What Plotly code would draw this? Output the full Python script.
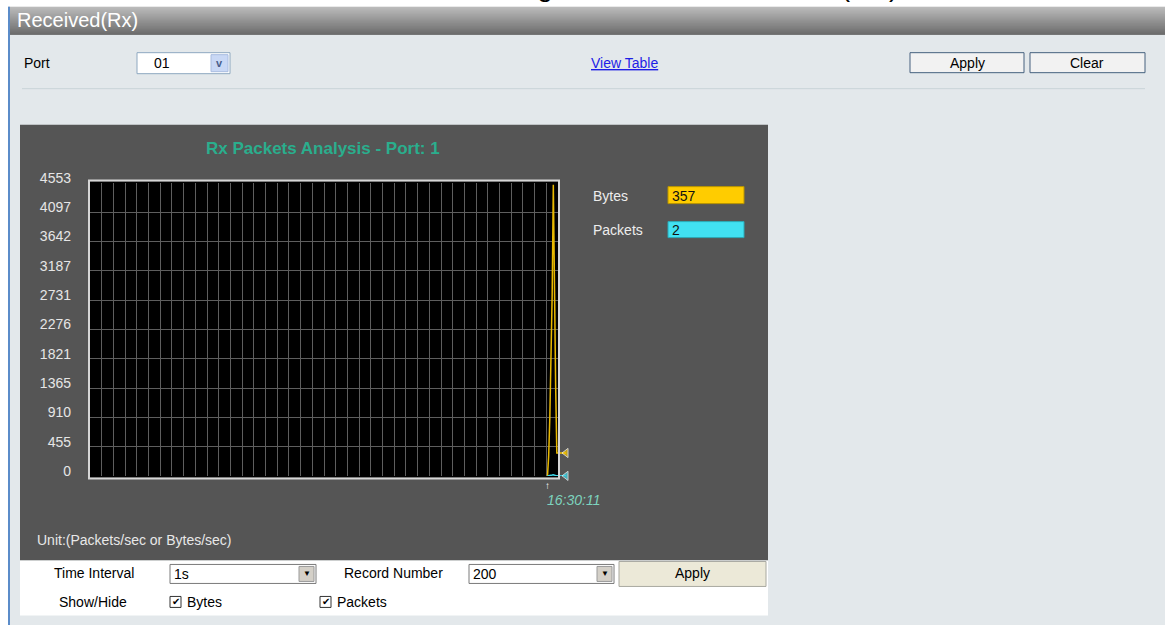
import plotly.graph_objects as go

# ---- data -------------------------------------------------------------
RECORDS = [391, 392, 393, 394, 395, 396, 397, 398, 399, 400]
BYTES = [0, 300, 900, 1650, 2800, 4520, 2400, 1380, 357, 357]
PACKETS = [0, 1, 4, 9, 14, 18, 10, 5, 2, 2]
Y_TICKS = [0, 455, 910, 1365, 1821, 2276, 2731, 3187, 3642, 4097, 4553]
RECORD_MAX = 400
START_TIME = "16:30:11"
CAPTION = ("次のウィンドウを表示するには、"
           "<span style='font-family:Liberation Sans'>Monitoring &gt; Packets &gt; Received (RX) </span>"
           "をクリックします。")

W, H = 1165, 629
FONT = "Liberation Sans, Arial, sans-serif"
# the photographed page shows the figure shifted down and slightly squeezed;
# positions below are screen pixels and are mapped back through this
SHIFT, SQUEEZE = 12.3, 0.975

# plot frame in screen pixels
FX0, FX1, FY0, FY1 = 90, 558, 181, 477


def px(x):
    return x / W


def py(y):
    return 1 - ((y - SHIFT) / SQUEEZE) / H


shapes = []
annotations = []


def rect(x0, y0, x1, y1, fill, line=None, lw=0, layer="below"):
    shapes.append(dict(type="rect", xref="paper", yref="paper",
                       x0=px(x0), x1=px(x1), y0=py(y1), y1=py(y0),
                       fillcolor=fill, layer=layer,
                       line=dict(color=line or fill, width=lw)))


def hline(x0, x1, y, color, lw=1):
    shapes.append(dict(type="line", xref="paper", yref="paper",
                       x0=px(x0), x1=px(x1), y0=py(y), y1=py(y),
                       line=dict(color=color, width=lw), layer="below"))


def text(x, y, s, size=14, color="#000000", anchor="left", family=FONT, **kw):
    annotations.append(dict(xref="paper", yref="paper", x=px(x), y=py(y),
                            text=s, showarrow=False, xanchor=anchor,
                            yanchor=kw.pop("yanchor", "middle"),
                            font=dict(size=size, color=color, family=family),
                            **kw))


# ---- page chrome ------------------------------------------------------
text(0, 5, CAPTION, size=28, family="Noto Sans CJK JP", yanchor="bottom")

rect(8, 34, W, 625, "#E3E8EB")
for i in range(28):
    c = int(172 - i * 3.6)
    rect(8, 6 + i, W, 7 + i, "rgb(%d,%d,%d)" % (c, c, c))
shapes.append(dict(type="line", xref="paper", yref="paper", x0=px(9), x1=px(9),
                   y0=py(625), y1=py(6), line=dict(color="#5B8CC9", width=2), layer="below"))
text(15, 19, "Received(Rx)", size=20, color="#FFFFFF")

# port row
text(22, 62, "Port")
rect(137, 52, 230, 73, "#FFFFFF", "#8EA8C0", 1)
rect(211, 54, 228, 71, "#C9D8F5", "#A9BCE0", 1)
text(219.5, 62, "<b>v</b>", size=11, color="#4A5F8C", anchor="center")
text(152, 62, "01")
text(624, 62, "<u>View Table</u>", color="#1E1EE6", anchor="center")
rect(910, 52, 1024, 72, "#F2F2F2", "#46617E", 1)
text(967, 62, "Apply", anchor="center")
rect(1030, 52, 1145, 72, "#F2F2F2", "#46617E", 1)
text(1087, 62, "Clear", anchor="center")
hline(22, 1145, 88, "#C9D4D8", 1)

# dark chart panel
rect(20, 124, 768, 560, "#555555")
rect(20, 560, 768, 615, "#FFFFFF")
rect(FX0, FY0, FX1, FY1, "#000000")
rect(FX0 - 1, FY0 - 1, FX1 + 1, FY1 + 1, "rgba(0,0,0,0)", "#D6D6D6", 2, layer="above")
text(323, 148, "<b>Rx Packets Analysis - Port: 1</b>", size=17, color="#2AAE8D", anchor="center")

# legend boxes
text(591, 195, "Bytes", color="#EDEDED")
rect(668, 186, 744, 203, "#FFCC00", "#B89400", 1)
text(670, 195, str(BYTES[-1]), color="#111111")
text(591, 229, "Packets", color="#EDEDED")
rect(668, 221, 744, 237, "#41E1F2", "#2AAAB8", 1)
text(670, 229, str(PACKETS[-1]), color="#111111")

text(35, 540, "Unit:(Packets/sec or Bytes/sec)", color="#E8E8E8")

# bottom controls
text(94, 573, "Time Interval", anchor="center")
rect(170, 564, 316, 583, "#FFFFFF", "#7A7A7A", 1)
rect(299, 566, 314, 581, "#D4D0C8", "#9A9A9A", 1)
text(306.5, 573.5, "▼", size=8, anchor="center")
text(172, 574, "1s")
text(393, 573, "Record Number", anchor="center")
rect(469, 564, 614, 583, "#FFFFFF", "#7A7A7A", 1)
rect(597, 566, 612, 581, "#D4D0C8", "#9A9A9A", 1)
text(604.5, 573.5, "▼", size=8, anchor="center")
text(471, 574, "200")
rect(619, 561, 766, 586, "#ECE9D8", "#A8A8A0", 1)
text(692, 573, "Apply", anchor="center")
text(93, 602, "Show/Hide", anchor="center")
rect(170, 596, 181, 607, "#FFFFFF", "#333333", 1)
text(175.5, 601.5, "✔", size=10, anchor="center")
text(185, 602, "Bytes")
rect(320, 596, 331, 607, "#FFFFFF", "#333333", 1)
text(325.5, 601.5, "✔", size=10, anchor="center")
text(335, 602, "Packets")

# start marker and time under the plot
annotations.append(dict(xref="x", yref="paper", x=RECORDS[0], y=py(485), text="↑",
                        showarrow=False, xanchor="center", yanchor="middle",
                        font=dict(size=10, color="#FFFFFF", family=FONT)))
annotations.append(dict(xref="x", yref="paper", x=RECORDS[0], y=py(500), text="<i>" + START_TIME + "</i>",
                        showarrow=False, xanchor="left", yanchor="middle", xshift=-2,
                        font=dict(size=14, color="#7DD3BE", family=FONT)))

# ---- traces -------------------------------------------------------------
TAIL_X1 = 575  # pixel right edge of the tail axis
tail_range = RECORD_MAX * (TAIL_X1 - FX0) / (FX1 - FX0)
tail_end = RECORD_MAX * (566 - FX0) / (FX1 - FX0)

fig = go.Figure()
fig.add_trace(go.Scatter(x=RECORDS, y=BYTES, mode="lines", name="Bytes",
                         line=dict(color="#E9B900", width=1.5)))
fig.add_trace(go.Scatter(x=RECORDS, y=PACKETS, mode="lines", name="Packets",
                         line=dict(color="#3FD8EA", width=1.5)))
for vals, col in ((BYTES, "#F5C400"), (PACKETS, "#3FD8EA")):
    fig.add_trace(go.Scatter(x=[RECORDS[-1], tail_end], y=[vals[-1], vals[-1]],
                             xaxis="x2", yaxis="y2", mode="lines+markers",
                             line=dict(color=col, width=1.5), cliponaxis=False,
                             marker=dict(symbol="triangle-left", size=[0, 8], color=col)))

ydom = [py(FY1 - 1.5), py(FY0 + 1)]
fig.update_layout(
    width=W, height=H, margin=dict(l=0, r=0, t=0, b=0),
    paper_bgcolor="#FFFFFF", plot_bgcolor="rgba(0,0,0,0)",
    showlegend=False, font=dict(family=FONT),
    shapes=shapes, annotations=annotations,
    xaxis=dict(domain=[px(FX0), px(FX1)], range=[0, RECORD_MAX], dtick=10, tick0=0,
               showgrid=True, gridcolor="#5E5E5E", gridwidth=1, zeroline=False,
               showticklabels=False, ticks="", fixedrange=True),
    yaxis=dict(domain=ydom, range=[0, Y_TICKS[-1]], tickvals=Y_TICKS,
               ticktext=[str(v) for v in Y_TICKS], showgrid=True, gridcolor="#5E5E5E",
               zeroline=False, ticks="", ticklabelstandoff=18, ticklabelshift=-5,
               tickfont=dict(size=14, color="#E6E6E6", family=FONT), fixedrange=True),
    xaxis2=dict(domain=[px(FX0), px(TAIL_X1)], range=[0, tail_range], anchor="y2",
                visible=False, showgrid=False),
    yaxis2=dict(domain=ydom, range=[0, Y_TICKS[-1]], anchor="x2", visible=False,
                showgrid=False),
)

fig.write_html("out.html", config={"displayModeBar": False},
               post_script="document.body.style.margin='0';")
